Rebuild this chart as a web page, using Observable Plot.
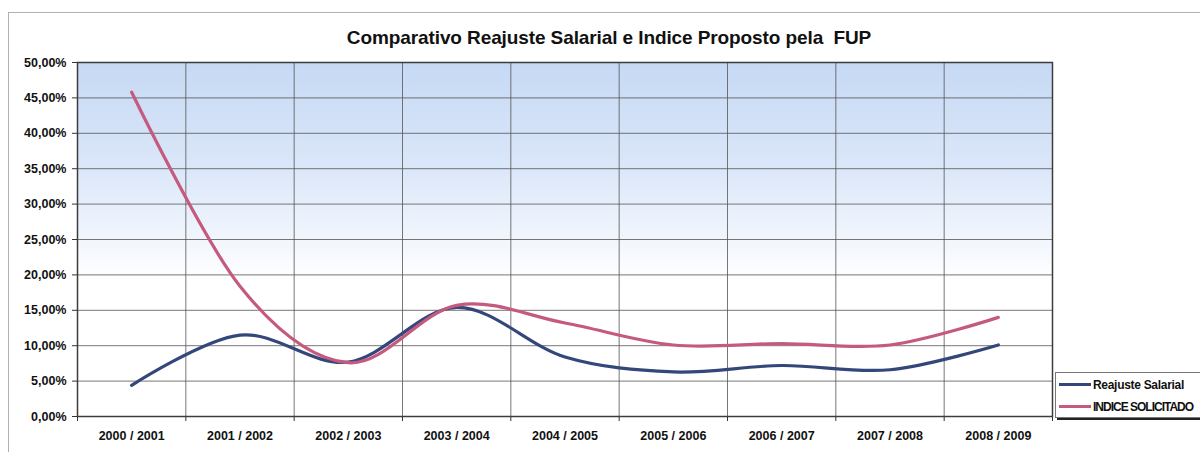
<!DOCTYPE html>
<html>
<head>
<meta charset="utf-8">
<script src="https://cdn.jsdelivr.net/npm/d3@7"></script>
<script src="https://cdn.jsdelivr.net/npm/@observablehq/plot@0.6"></script>
<style>
  html, body { margin: 0; padding: 0; background: #fff; overflow: hidden; }
  #wrap { position: relative; width: 1200px; height: 452px; font-family: "Liberation Sans", Arial, sans-serif; }
  #outer { position: absolute; left: 8px; top: 12px; width: 1400px; height: 600px; border-left: 1px solid #b0b0b0; border-top: 1px solid #b0b0b0; }
  #title { position: absolute; left: 8px; top: 27px; width: 1202px; text-align: center; font-weight: bold; font-size: 19px; letter-spacing: -0.1px; color: #111; white-space: pre; }
  #chart { position: absolute; left: 0; top: 0; }
  #legend { position: absolute; left: 1055px; top: 372px; width: 170px; height: 44px; border: 1px solid #777; background: #fff; box-shadow: 2px 2px 0 #222; font-weight: bold; font-size: 12px; letter-spacing: -0.3px; color: #111; white-space: nowrap; }
  .item { position: absolute; left: 3px; height: 14px; line-height: 14px; }
  .sw { display: inline-block; width: 32px; height: 3px; vertical-align: middle; margin-right: 2px; position: relative; top: -1px; }
</style>
</head>
<body>
<div id="wrap">
  <div id="outer"></div>
  <div id="chart"></div>
  <div id="title"></div>
  <div id="legend"></div>
</div>
<script>
const titleText = "Comparativo Reajuste Salarial e Indice Proposto pela  FUP";
const categories = ["2000 / 2001", "2001 / 2002", "2002 / 2003", "2003 / 2004", "2004 / 2005", "2005 / 2006", "2006 / 2007", "2007 / 2008", "2008 / 2009"];
const seriesNames = ["Reajuste Salarial", "INDICE SOLICITADO"];
const reajuste = [0.044, 0.115, 0.077, 0.154, 0.084, 0.063, 0.072, 0.066, 0.101];
const indice = [0.458, 0.184, 0.076, 0.157, 0.132, 0.101, 0.103, 0.101, 0.140];
const yTicks = [0, 0.05, 0.10, 0.15, 0.20, 0.25, 0.30, 0.35, 0.40, 0.45, 0.50];
const colors = ["#34477b", "#c65a7e"];
const legendSpacing = ["-0.3px", "-1px"];

const data = [];
categories.forEach((c, i) => {
  data.push({i, cat: c, serie: seriesNames[0], v: reajuste[i]});
  data.push({i, cat: c, serie: seriesNames[1], v: indice[i]});
});
const boundaries = d3.range(categories.length + 1).map(k => k - 0.5);
const idx = d3.range(categories.length);
const fmtPct = v => (v * 100).toFixed(2).replace(".", ",") + "%";

document.getElementById("title").textContent = titleText;

const plot = Plot.plot({
  width: 1200,
  height: 452,
  marginLeft: 77,
  marginRight: 148,
  marginTop: 62,
  marginBottom: 36,
  style: { fontFamily: "Liberation Sans, Arial, sans-serif", fontSize: "12px", fontWeight: "bold", color: "#111", background: "transparent", overflow: "visible" },
  x: { type: "linear", domain: [-0.5, categories.length - 0.5] },
  y: { domain: [0, 0.5] },
  color: { domain: seriesNames, range: colors },
  marks: [
    Plot.frame({ fill: "url(#bgGrad)", stroke: "none" }),
    Plot.gridY(yTicks, { stroke: "#555", strokeOpacity: 0.8, strokeWidth: 1 }),
    Plot.gridX(boundaries, { stroke: "#555", strokeOpacity: 0.8, strokeWidth: 1 }),
    Plot.axisY(yTicks, { tickSize: 5, tickPadding: 6, tickFormat: fmtPct, label: null, stroke: "#333", fontSize: 12.5, fontWeight: "bold" }),
    Plot.axisX(boundaries, { tickSize: 5, tickFormat: () => "", label: null, stroke: "#333" }),
    Plot.axisX(idx, { tickSize: 0, tickPadding: 15, tickFormat: i => categories[i], label: null, fontSize: 12.5, fontWeight: "bold" }),
    Plot.line(data, { x: "i", y: "v", z: "serie", stroke: "serie", strokeWidth: 3.2, curve: "cardinal" }),
    Plot.frame({ stroke: "#3c3c3c", strokeWidth: 1.5 })
  ]
});

const svg = d3.select(plot);
const defs = svg.insert("defs", ":first-child");
const grad = defs.append("linearGradient").attr("id", "bgGrad").attr("x1", 0).attr("y1", 0).attr("x2", 0).attr("y2", 1);
grad.append("stop").attr("offset", "0%").attr("stop-color", "#c6d9f4");
grad.append("stop").attr("offset", "30%").attr("stop-color", "#dbe7f9");
grad.append("stop").attr("offset", "62%").attr("stop-color", "#ffffff");
grad.append("stop").attr("offset", "100%").attr("stop-color", "#ffffff");
document.getElementById("chart").appendChild(plot);

const legend = document.getElementById("legend");
seriesNames.forEach((s, k) => {
  const item = document.createElement("div");
  item.className = "item";
  item.style.top = (5 + k * 22) + "px";
  item.style.letterSpacing = legendSpacing[k];
  const sw = document.createElement("span");
  sw.className = "sw";
  sw.style.background = colors[k];
  item.appendChild(sw);
  item.appendChild(document.createTextNode(s));
  legend.appendChild(item);
});
</script>
</body>
</html>
